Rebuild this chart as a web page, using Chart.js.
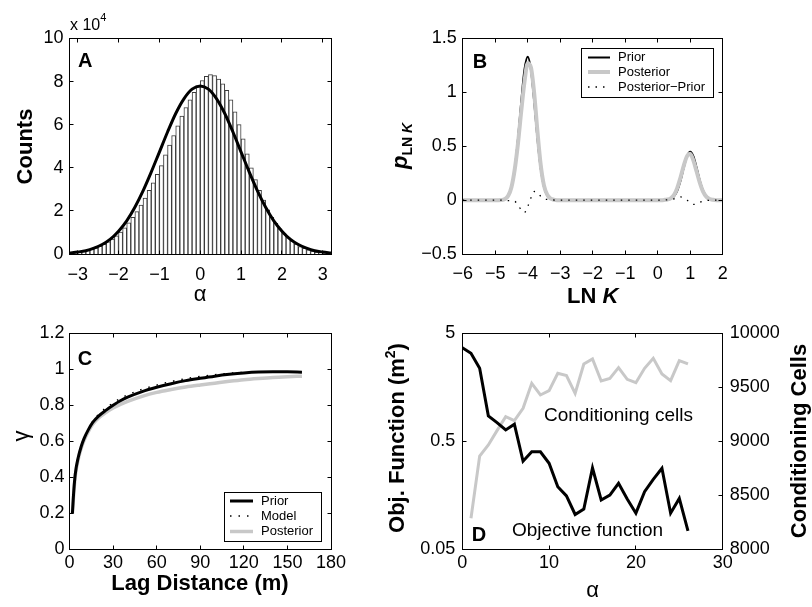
<!DOCTYPE html>
<html>
<head>
<meta charset="utf-8">
<script src="https://cdn.jsdelivr.net/npm/chart.js@4.4.0/dist/chart.umd.min.js"></script>
<style>
  html, body { margin: 0; padding: 0; background: #fff; }
  #wrap { position: relative; width: 812px; height: 607px; }
  #wrap canvas { position: absolute; left: 0; top: 0; }
</style>
</head>
<body>
<div id="wrap">
  <canvas id="chartA" width="812" height="607"></canvas>
  <canvas id="chartB" width="812" height="607"></canvas>
  <canvas id="chartC" width="812" height="607"></canvas>
  <canvas id="chartD" width="812" height="607"></canvas>
</div>
<script>
// ---- Panel A: histogram of alpha (counts x 10^4) with normal fit ----
const aBinCenters = [-3.15, -3.05, -2.95, -2.85, -2.75, -2.65, -2.55, -2.45, -2.35, -2.25, -2.15, -2.05,
  -1.95, -1.85, -1.75, -1.65, -1.55, -1.45, -1.35, -1.25, -1.15, -1.05, -0.95, -0.85, -0.75, -0.65,
  -0.55, -0.45, -0.35, -0.25, -0.15, -0.05, 0.05, 0.15, 0.25, 0.35, 0.45, 0.55, 0.65, 0.75, 0.85,
  0.95, 1.05, 1.15, 1.25, 1.35, 1.45, 1.55, 1.65, 1.75, 1.85, 1.95, 2.05, 2.15, 2.25, 2.35, 2.45,
  2.55, 2.65, 2.75, 2.85, 2.95, 3.05, 3.15];
const aCounts = [0.05, 0.07, 0.10, 0.13, 0.17, 0.22, 0.28, 0.36, 0.45, 0.56, 0.69, 0.84,
  1.02, 1.22, 1.45, 1.70, 1.97, 2.27, 2.60, 2.95, 3.30, 3.70, 4.10, 4.60, 5.05, 5.50,
  5.95, 6.40, 6.80, 7.15, 7.50, 7.80, 8.05, 8.25, 8.32, 8.28, 8.12, 7.90, 7.60, 7.15, 6.60,
  6.00, 5.35, 4.65, 4.00, 3.45, 2.95, 2.50, 2.05, 1.70, 1.42, 1.17, 0.95, 0.76, 0.60, 0.46,
  0.35, 0.26, 0.19, 0.13, 0.09, 0.06, 0.04, 0.02];
const aFitX = [-3.2, -3.0, -2.8, -2.6, -2.4, -2.2, -2.0, -1.8, -1.6, -1.4, -1.2, -1.0, -0.8, -0.6, -0.4, -0.2, 0,
  0.2, 0.4, 0.6, 0.8, 1.0, 1.2, 1.4, 1.6, 1.8, 2.0, 2.2, 2.4, 2.6, 2.8, 3.0, 3.2];
const aFitY = [0.05, 0.09, 0.15, 0.27, 0.44, 0.69, 1.06, 1.54, 2.17, 2.93, 3.80, 4.73, 5.66, 6.52, 7.20, 7.65, 7.80,
  7.65, 7.20, 6.52, 5.66, 4.73, 3.80, 2.93, 2.17, 1.54, 1.06, 0.69, 0.44, 0.27, 0.15, 0.09, 0.05];
const aTicksX = [-3, -2, -1, 0, 1, 2, 3];
const aTicksY = [0, 2, 4, 6, 8, 10];

// ---- Panel B: pdf of LN K ----
const bLnK = [-6, -5.5, -5, -4.9, -4.8, -4.7, -4.6, -4.5, -4.4, -4.3, -4.2, -4.1, -4.0, -3.9, -3.8, -3.7,
  -3.6, -3.5, -3.4, -3.3, -3.2, -3.1, -3.0, -2.5, -2, -1.5, -1, -0.5, 0, 0.1, 0.2, 0.3, 0.4, 0.5,
  0.6, 0.7, 0.8, 0.9, 1.0, 1.1, 1.2, 1.3, 1.4, 1.5, 1.6, 1.7, 1.8, 1.9, 2];
const bPrior = [0, 0, 0, 0, 0.002, 0.013, 0.044, 0.125, 0.293, 0.568, 0.911, 1.21, 1.33, 1.21, 0.911, 0.568,
  0.293, 0.125, 0.044, 0.013, 0.003, 0, 0, 0, 0, 0, 0, 0, 0, 0, 0.001, 0.003, 0.011, 0.034,
  0.086, 0.178, 0.298, 0.406, 0.45, 0.406, 0.298, 0.178, 0.086, 0.034, 0.011, 0.003, 0, 0, 0];
const bPosterior = [0, 0, 0, 0, 0.001, 0.01, 0.04, 0.12, 0.283, 0.523, 0.821, 1.095, 1.27, 1.23, 0.991, 0.638,
  0.328, 0.137, 0.05, 0.015, 0.004, 0, 0, 0, 0, 0, 0, 0, 0, 0, 0.002, 0.006, 0.017, 0.046,
  0.111, 0.208, 0.318, 0.406, 0.43, 0.366, 0.263, 0.158, 0.076, 0.03, 0.01, 0.003, 0, 0, 0];
const bDiff = [0, 0, 0, 0, -0.001, -0.003, -0.004, -0.005, -0.01, -0.045, -0.09, -0.115, -0.06, 0.02, 0.08, 0.07,
  0.035, 0.012, 0.006, 0.002, 0.001, 0, 0, 0, 0, 0, 0, 0, 0, 0, 0.001, 0.003, 0.006, 0.012,
  0.025, 0.03, 0.02, 0.0, -0.02, -0.04, -0.035, -0.02, -0.01, -0.004, -0.001, 0, 0, 0, 0];
const bTicksX = [-6, -5, -4, -3, -2, -1, 0, 1, 2];
const bTicksY = [-0.5, 0, 0.5, 1, 1.5];

// ---- Panel C: variograms ----
const cLag = [2, 3, 4, 6, 8, 10, 13, 16, 20, 25, 30, 35, 40, 50, 60, 70, 80, 90, 100, 110, 120, 130, 140, 150, 160];
const cPrior = [0.20, 0.33, 0.42, 0.51, 0.57, 0.615, 0.665, 0.705, 0.74, 0.772, 0.80, 0.825, 0.845, 0.876, 0.90,
  0.92, 0.937, 0.95, 0.962, 0.972, 0.98, 0.985, 0.986, 0.986, 0.984];
const cModel = [0.20, 0.33, 0.42, 0.51, 0.57, 0.615, 0.665, 0.71, 0.75, 0.785, 0.813, 0.838, 0.858, 0.889, 0.912,
  0.932, 0.948, 0.96, 0.97, 0.978, 0.983, 0.986, 0.987, 0.987, 0.985];
const cPosterior = [0.20, 0.32, 0.41, 0.50, 0.56, 0.605, 0.655, 0.695, 0.73, 0.76, 0.785, 0.805, 0.822, 0.85, 0.872,
  0.888, 0.902, 0.913, 0.923, 0.933, 0.942, 0.949, 0.955, 0.959, 0.962];
const cTicksX = [0, 30, 60, 90, 120, 150, 180];
const cTicksY = [0, 0.2, 0.4, 0.6, 0.8, 1, 1.2];

// ---- Panel D: objective function and conditioning cells vs alpha ----
const dAlpha = [0, 1, 2, 3, 4, 5, 6, 7, 8, 9, 10, 11, 12, 13, 14, 15, 16, 17, 18, 19, 20, 21, 22, 23, 24, 25, 26];
const dObjective = [3.68, 3.26, 2.37, 0.86, 0.745, 0.637, 0.72, 0.327, 0.40, 0.40, 0.313, 0.19, 0.156, 0.105,
  0.118, 0.283, 0.143, 0.159, 0.204, 0.146, 0.108, 0.171, 0.222, 0.281, 0.108, 0.148, 0.074];
const dCellsAlpha = [1, 2, 3, 4, 5, 6, 7, 8, 9, 10, 11, 12, 13, 14, 15, 16, 17, 18, 19, 20, 21, 22, 23, 24, 25, 26];
const dCells = [8287, 8864, 8966, 9099, 9228, 9191, 9306, 9537, 9429, 9469, 9630, 9608, 9444, 9716, 9762,
  9559, 9583, 9682, 9574, 9543, 9676, 9769, 9623, 9562, 9747, 9716];
const dTicksX = [0, 10, 20, 30];
const dTicksObj = [0.05, 0.5, 5];
const dTicksCells = [8000, 8500, 9000, 9500, 10000];

// ---- shared helpers ----
const FONT = '"Liberation Sans", Arial, Helvetica, sans-serif';
const GRAY = '#c8c8c8';
const TICK_FONT = { family: FONT, size: 18 };
Chart.defaults.font.family = FONT;

const fmt = v => String(v).replace('-', '\u2212');
const pts = (xs, ys) => xs.map((x, i) => ({ x: x, y: ys[i] }));

function axisX(min, max, ticks, pad) {
  return {
    type: 'linear', min: min, max: max, offset: false,
    grid: { display: false, drawTicks: false }, border: { display: false },
    afterBuildTicks: s => { s.ticks = ticks.map(v => ({ value: v })); },
    afterFit: s => { s.height = 40; },
    ticks: { font: TICK_FONT, color: '#000', padding: pad, maxRotation: 0, autoSkip: false, callback: fmt }
  };
}

function axisY(type, min, max, ticks, width, pad, position) {
  return {
    type: type, min: min, max: max, position: position || 'left',
    grid: { display: false, drawTicks: false }, border: { display: false },
    afterBuildTicks: s => { s.ticks = ticks.map(v => ({ value: v })); },
    afterFit: s => { s.width = width; },
    ticks: { font: TICK_FONT, color: '#000', padding: pad, autoSkip: false, callback: fmt }
  };
}

// box round the plot with inward tick marks on all sides
function frame(leftId, rightId) {
  return {
    id: 'frame',
    afterDatasetsDraw(chart) {
      const { ctx, chartArea: a, scales } = chart;
      const L = Math.floor(a.left) + 0.5, R = Math.floor(a.right) + 0.5;
      const T = Math.floor(a.top) + 0.5, B = Math.floor(a.bottom) + 0.5;
      const len = 4;
      const yl = scales[leftId || 'y'], yr = scales[rightId || 'y'];
      ctx.save();
      ctx.strokeStyle = '#000';
      ctx.lineWidth = 1;
      ctx.beginPath();
      scales.x.ticks.forEach(t => {
        const px = Math.floor(scales.x.getPixelForValue(t.value)) + 0.5;
        ctx.moveTo(px, B); ctx.lineTo(px, B - len);
        ctx.moveTo(px, T); ctx.lineTo(px, T + len);
      });
      yl.ticks.forEach(t => {
        const py = Math.floor(yl.getPixelForValue(t.value)) + 0.5;
        ctx.moveTo(L, py); ctx.lineTo(L + len, py);
      });
      yr.ticks.forEach(t => {
        const py = Math.floor(yr.getPixelForValue(t.value)) + 0.5;
        ctx.moveTo(R, py); ctx.lineTo(R - len, py);
      });
      ctx.stroke();
      ctx.strokeRect(L, T, R - L, B - T);
      ctx.restore();
    }
  };
}

// free text: titles, panel letters, notes (parts allow sub/superscripts)
function texts(items) {
  return {
    id: 'texts',
    afterDraw(chart) {
      const ctx = chart.ctx;
      items.forEach(it => {
        const parts = it.parts || [{ text: it.text, font: it.font }];
        ctx.save();
        ctx.fillStyle = '#000';
        ctx.textBaseline = 'alphabetic';
        ctx.textAlign = 'left';
        const widths = parts.map(p => { ctx.font = p.font; return ctx.measureText(p.text).width; });
        const total = widths.reduce((s, w) => s + w, 0);
        ctx.translate(it.x, it.y);
        if (it.rotate) ctx.rotate(it.rotate);
        let cx = it.align === 'center' ? -total / 2 : 0;
        parts.forEach((p, i) => {
          ctx.font = p.font;
          ctx.fillText(p.text, cx, p.dy || 0);
          cx += widths[i];
        });
        ctx.restore();
      });
    }
  };
}

// boxed legend drawn inside the axes, samples taken from the datasets
function boxLegend(cfg) {
  return {
    id: 'boxLegend',
    afterDraw(chart) {
      const ctx = chart.ctx;
      ctx.save();
      ctx.fillStyle = '#fff';
      ctx.fillRect(cfg.x, cfg.y, cfg.w, cfg.h);
      ctx.strokeStyle = '#000';
      ctx.lineWidth = 1;
      ctx.strokeRect(cfg.x + 0.5, cfg.y + 0.5, cfg.w, cfg.h);
      cfg.rows.forEach(r => {
        const ds = chart.data.datasets[r.ds];
        ctx.beginPath();
        ctx.setLineDash(ds.borderDash || []);
        ctx.strokeStyle = ds.borderColor;
        ctx.lineWidth = ds.borderWidth;
        ctx.moveTo(cfg.x0, r.y); ctx.lineTo(cfg.x1, r.y);
        ctx.stroke();
        ctx.setLineDash([]);
        ctx.fillStyle = '#000';
        ctx.font = '13px ' + FONT;
        ctx.textBaseline = 'middle';
        ctx.fillText(ds.label, cfg.tx, r.y);
      });
      ctx.restore();
    }
  };
}

const UP = -Math.PI / 2;
const base = { responsive: false, animation: false, events: [] };
const quiet = { legend: { display: false }, tooltip: { enabled: false } };

// ---- A ----
new Chart(document.getElementById('chartA'), {
  type: 'bar',
  data: {
    datasets: [
      { type: 'line', label: 'Normal fit', data: pts(aFitX, aFitY), borderColor: '#000', borderWidth: 3,
        pointRadius: 0, cubicInterpolationMode: 'monotone', order: 0 },
      { type: 'bar', label: 'Counts', data: pts(aBinCenters, aCounts), backgroundColor: '#fff',
        borderColor: '#3a3a3a', borderWidth: 1, barPercentage: 1, categoryPercentage: 1, order: 1 }
    ]
  },
  options: Object.assign({}, base, {
    layout: { padding: { left: 0, top: 38.5, right: 481, bottom: 313 } },
    plugins: quiet,
    scales: { x: axisX(-3.2, 3.2, aTicksX, 10), y: axisY('linear', 0, 10, aTicksY, 69.5, 6) }
  }),
  plugins: [frame(), texts([
    { parts: [{ text: 'x 10', font: '16px ' + FONT }, { text: '4', font: '11px ' + FONT, dy: -9 }], x: 70, y: 30 },
    { text: 'A', font: 'bold 20px ' + FONT, x: 78, y: 67 },
    { text: 'Counts', font: 'bold 22px ' + FONT, x: 31.5, y: 146.5, rotate: UP, align: 'center' },
    { text: '\u03b1', font: '22px ' + FONT, x: 200, y: 301, align: 'center' }
  ])]
});

// ---- B ----
new Chart(document.getElementById('chartB'), {
  type: 'line',
  data: {
    datasets: [
      { label: 'Prior', data: pts(bLnK, bPrior), borderColor: '#000', borderWidth: 2, pointRadius: 0,
        cubicInterpolationMode: 'monotone', order: 2 },
      { label: 'Posterior', data: pts(bLnK, bPosterior), borderColor: GRAY, borderWidth: 4, pointRadius: 0,
        cubicInterpolationMode: 'monotone', order: 1 },
      { label: 'Posterior\u2212Prior', data: pts(bLnK, bDiff), borderColor: '#000', borderWidth: 1.3,
        borderDash: [1.5, 6], pointRadius: 0, cubicInterpolationMode: 'monotone', order: 0 }
    ]
  },
  options: Object.assign({}, base, {
    layout: { padding: { left: 393.2, top: 38.5, right: 89.3, bottom: 313 } },
    plugins: quiet,
    scales: { x: axisX(-6, 2, bTicksX, 9), y: axisY('linear', -0.5, 1.5, bTicksY, 69.5, 6) }
  }),
  plugins: [frame(), boxLegend({ x: 581, y: 48, w: 132, h: 49, x0: 588, x1: 610, tx: 618,
      rows: [{ ds: 0, y: 57.5 }, { ds: 1, y: 72 }, { ds: 2, y: 87 }] }),
    texts([
      { text: 'B', font: 'bold 20px ' + FONT, x: 472.7, y: 68 },
      { parts: [{ text: 'LN ', font: 'bold 22px ' + FONT }, { text: 'K', font: 'italic bold 22px ' + FONT }],
        x: 592.7, y: 302.5, align: 'center' },
      { parts: [{ text: 'p', font: 'italic bold 22px ' + FONT }, { text: 'LN ', font: 'bold 14px ' + FONT, dy: 5 },
        { text: 'K', font: 'italic bold 14px ' + FONT, dy: 5 }], x: 407, y: 146, rotate: UP, align: 'center' }
    ])]
});

// ---- C ----
new Chart(document.getElementById('chartC'), {
  type: 'line',
  data: {
    datasets: [
      { label: 'Prior', data: pts(cLag, cPrior), borderColor: '#000', borderWidth: 3, pointRadius: 0,
        cubicInterpolationMode: 'monotone', order: 1 },
      { label: 'Model', data: pts(cLag, cModel), borderColor: '#000', borderWidth: 1.5, borderDash: [1.5, 7],
        pointRadius: 0, cubicInterpolationMode: 'monotone', order: 0 },
      { label: 'Posterior', data: pts(cLag, cPosterior), borderColor: GRAY, borderWidth: 3.5, pointRadius: 0,
        cubicInterpolationMode: 'monotone', order: 2 }
    ]
  },
  options: Object.assign({}, base, {
    layout: { padding: { left: 0, top: 333.3, right: 481, bottom: 17.7 } },
    plugins: quiet,
    scales: { x: axisX(0, 180, cTicksX, 3), y: axisY('linear', 0, 1.2, cTicksY, 69.5, 5) }
  }),
  plugins: [frame(), boxLegend({ x: 224, y: 492, w: 97, h: 49, x0: 230, x1: 253, tx: 261,
      rows: [{ ds: 0, y: 501 }, { ds: 1, y: 516 }, { ds: 2, y: 531.5 }] }),
    texts([
      { text: 'C', font: 'bold 20px ' + FONT, x: 77.7, y: 365 },
      { text: '\u03b3', font: '22px ' + FONT, x: 28, y: 436, rotate: UP, align: 'center' },
      { text: 'Lag Distance (m)', font: 'bold 22px ' + FONT, x: 200, y: 589.5, align: 'center' }
    ])]
});

// ---- D ----
new Chart(document.getElementById('chartD'), {
  type: 'line',
  data: {
    datasets: [
      { label: 'Objective function', data: pts(dAlpha, dObjective), yAxisID: 'y', borderColor: '#000',
        borderWidth: 3, pointRadius: 0, tension: 0, order: 0 },
      { label: 'Conditioning cells', data: pts(dCellsAlpha, dCells), yAxisID: 'y2', borderColor: GRAY,
        borderWidth: 3, pointRadius: 0, tension: 0, order: 1 }
    ]
  },
  options: Object.assign({}, base, {
    layout: { padding: { left: 392.3, top: 333.3, right: 0, bottom: 17.7 } },
    plugins: quiet,
    scales: {
      x: axisX(0, 30, dTicksX, 3),
      y: axisY('logarithmic', 0.05, 5, dTicksObj, 70, 7),
      y2: axisY('linear', 8000, 10000, dTicksCells, 89.3, 7, 'right')
    }
  }),
  plugins: [frame('y', 'y2'), texts([
    { text: 'D', font: 'bold 20px ' + FONT, x: 471.7, y: 540.5 },
    { text: 'Conditioning cells', font: '19px ' + FONT, x: 544, y: 421 },
    { text: 'Objective function', font: '19px ' + FONT, x: 512, y: 536 },
    { text: '\u03b1', font: '22px ' + FONT, x: 592.5, y: 596.5, align: 'center' },
    { parts: [{ text: 'Obj. Function (m', font: 'bold 22px ' + FONT }, { text: '2', font: 'bold 14px ' + FONT, dy: -9 },
      { text: ')', font: 'bold 22px ' + FONT }], x: 404, y: 438, rotate: UP, align: 'center' },
    { text: 'Conditioning Cells', font: 'bold 22px ' + FONT, x: 805.5, y: 441, rotate: UP, align: 'center' }
  ])]
});
</script>
</body>
</html>
